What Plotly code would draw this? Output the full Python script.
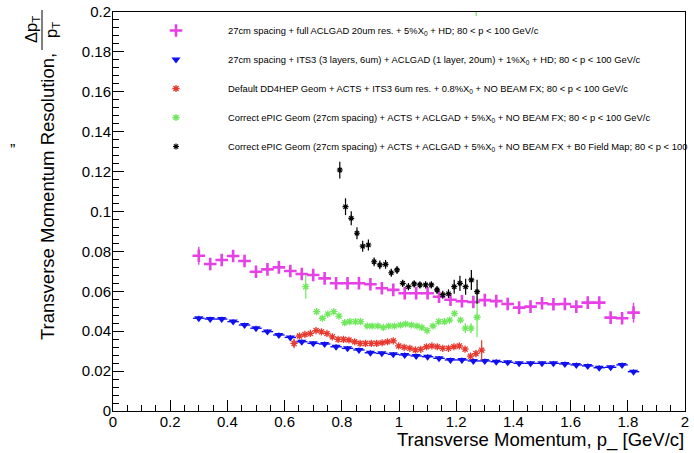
import plotly.graph_objects as go

# ---------------- data ----------------
mag_x = [0.30, 0.34, 0.38, 0.42, 0.46, 0.50, 0.54, 0.58, 0.62, 0.66, 0.70, 0.74, 0.78,
         0.82, 0.86, 0.90, 0.94, 0.98, 1.02, 1.06, 1.10, 1.14, 1.18, 1.22, 1.26, 1.30,
         1.34, 1.38, 1.42, 1.46, 1.50, 1.54, 1.58, 1.62, 1.66, 1.70, 1.74, 1.78, 1.82]
mag_y = [0.0778, 0.0737, 0.0757, 0.0777, 0.0752, 0.0698, 0.0710, 0.0720, 0.0702, 0.0687,
         0.0682, 0.0665, 0.0640, 0.0640, 0.0640, 0.0635, 0.0615, 0.0607, 0.0590, 0.0590,
         0.0590, 0.0573, 0.0558, 0.0550, 0.0546, 0.0556, 0.0551, 0.0536, 0.0518, 0.0523,
         0.0540, 0.0535, 0.0536, 0.0523, 0.0543, 0.0543, 0.0468, 0.0465, 0.0493]
mag_err = [0.0045] + [0.0012] * 37 + [0.0050]

blue_x = mag_x
blue_y = [0.0465, 0.0461, 0.0461, 0.0448, 0.0431, 0.0415, 0.0398, 0.0381, 0.0369, 0.0347,
          0.0339, 0.0336, 0.0322, 0.0314, 0.0306, 0.0292, 0.0289, 0.0284, 0.0281, 0.0276,
          0.0272, 0.0264, 0.0256, 0.0256, 0.0251, 0.0251, 0.0247, 0.0244, 0.0239, 0.0239,
          0.0239, 0.0239, 0.0236, 0.0231, 0.0226, 0.0217, 0.0219, 0.0231, 0.0197]
blue_err = [0.0012] * 39

red_x = [0.633, 0.652, 0.671, 0.690, 0.710, 0.729, 0.748, 0.767, 0.787, 0.806, 0.825, 0.845,
         0.864, 0.883, 0.903, 0.922, 0.941, 0.960, 0.980, 0.999, 1.018, 1.038, 1.057, 1.076,
         1.096, 1.115, 1.134, 1.153, 1.173, 1.192, 1.211, 1.231, 1.250, 1.269, 1.289]
red_y = [0.0339, 0.0376, 0.0384, 0.0389, 0.0403, 0.0397, 0.0389, 0.0372, 0.0359, 0.0359,
         0.0356, 0.0347, 0.0339, 0.0339, 0.0339, 0.0339, 0.0342, 0.0347, 0.0352, 0.0326,
         0.0319, 0.0314, 0.0306, 0.0309, 0.0322, 0.0326, 0.0322, 0.0314, 0.0314, 0.0322,
         0.0326, 0.0310, 0.0275, 0.0288, 0.0305]
red_err = [0.0025] + [0.0008] * 31 + [0.0015, 0.0015, 0.0050]

green_x = [0.674, 0.712, 0.732, 0.751, 0.772, 0.790, 0.810, 0.828, 0.848, 0.866, 0.889,
           0.906, 0.926, 0.945, 0.964, 0.984, 1.005, 1.023, 1.043, 1.063, 1.080, 1.098,
           1.119, 1.139, 1.159, 1.177, 1.194, 1.215, 1.232, 1.252, 1.273, 1.270]
green_y = [0.0623, 0.0498, 0.0465, 0.0486, 0.0498, 0.0476, 0.0443, 0.0448, 0.0448, 0.0448,
           0.0426, 0.0426, 0.0426, 0.0419, 0.0426, 0.0426, 0.0431, 0.0436, 0.0431, 0.0426,
           0.0419, 0.0403, 0.0426, 0.0448, 0.0448, 0.0456, 0.0489, 0.0456, 0.0415, 0.0415,
           0.0470, 0.2150]
green_err = [0.0060] + [0.0010] * 25 + [0.0015, 0.0015, 0.0025, 0.0025, 0.0100, 0.0170]

black_x = [0.793, 0.813, 0.833, 0.853, 0.873, 0.893, 0.913, 0.933, 0.953, 0.973, 0.993,
           1.013, 1.033, 1.053, 1.073, 1.093, 1.113, 1.133, 1.153, 1.173, 1.193, 1.213,
           1.233, 1.253, 1.273]
black_y = [0.1208, 0.1024, 0.0966, 0.0891, 0.0826, 0.0832, 0.0748, 0.0732, 0.0735, 0.0693,
           0.0707, 0.0640, 0.0623, 0.0637, 0.0632, 0.0632, 0.0632, 0.0607, 0.0583, 0.0588,
           0.0623, 0.0640, 0.0623, 0.0657, 0.0598]
black_err = [0.0042, 0.0042, 0.0035, 0.0030, 0.0028, 0.0028, 0.0022, 0.0022, 0.0022, 0.0020,
             0.0020, 0.0018, 0.0018, 0.0018, 0.0018, 0.0018, 0.0018, 0.0020, 0.0020, 0.0022,
             0.0035, 0.0038, 0.0040, 0.0050, 0.0060]

legend_names = [
    "27cm spacing + full ACLGAD 20um res. + 5%X<sub>0</sub> + HD; 80 < p < 100 GeV/c",
    "27cm spacing + ITS3 (3 layers, 6um) + ACLGAD (1 layer, 20um) + 1%X<sub>0</sub> + HD; 80 < p < 100 GeV/c",
    "Default DD4HEP Geom + ACTS + ITS3 6um res. + 0.8%X<sub>0</sub> + NO BEAM FX; 80 < p < 100 GeV/c",
    "Correct ePIC Geom (27cm spacing) + ACTS + ACLGAD + 5%X<sub>0</sub> + NO BEAM FX; 80 < p < 100 GeV/c",
    "Correct ePIC Geom (27cm spacing) + ACTS + ACLGAD + 5%X<sub>0</sub> + NO BEAM FX + B0 Field Map; 80 < p < 100",
]

x_tick_vals = [0, 0.2, 0.4, 0.6, 0.8, 1.0, 1.2, 1.4, 1.6, 1.8, 2.0]
x_tick_text = ["0", "0.2", "0.4", "0.6", "0.8", "1", "1.2", "1.4", "1.6", "1.8", "2"]
y_tick_vals = [0, 0.02, 0.04, 0.06, 0.08, 0.10, 0.12, 0.14, 0.16, 0.18, 0.20]
y_tick_text = ["0", "0.02", "0.04", "0.06", "0.08", "0.1", "0.12", "0.14", "0.16", "0.18", "0.2"]

x_title = "Transverse Momentum, p_ [GeV/c]"
y_title = "Transverse Momentum Resolution,"

# ---------------- layout geometry ----------------
W, H = 694, 453
L, R, T, B = 113, 685, 12, 411
FONT = "Liberation Sans, Arial, Helvetica, sans-serif"


def px(xp):
    return (xp - L) / (R - L)


def py(yp):
    return (B - yp) / (B - T)


MAG = "#e640e6"
BLUE = "#1010ee"
RED = "#e8382e"
GREEN = "#6fe85c"
BLACK = "#000000"

fig = go.Figure()


def add_series(x, y, err, xerr, color, name, symbol, size, mline=0, thick=1.2, xthick=1.2):
    marker = dict(color=color, symbol=symbol, size=size)
    if mline:
        marker["line"] = dict(color=color, width=mline)
    fig.add_trace(go.Scatter(
        x=x, y=y, mode="markers", name=name, legendgroup=name,
        marker=marker,
        error_y=dict(type="data", array=err, color=color, thickness=thick, width=0),
        error_x=dict(type="constant", value=xerr, color=color, thickness=xthick, width=0),
        cliponaxis=True,
    ))


add_series(mag_x, mag_y, mag_err, 0.0, MAG, legend_names[0], "cross-thin-open", 9, mline=2.6, thick=1.4)
add_series(blue_x, blue_y, blue_err, 0.02, BLUE, legend_names[1], "triangle-down", 8, xthick=1.4)
add_series(red_x, red_y, red_err, 0.0, RED, legend_names[2], "asterisk-open", 6, mline=1.3)
add_series(green_x, green_y, green_err, 0.0, GREEN, legend_names[3], "asterisk-open", 6, mline=1.3)
add_series(black_x, black_y, black_err, 0.0, BLACK, legend_names[4], "asterisk-open", 5, mline=1.2)

axis_common = dict(
    showline=True, linecolor="black", linewidth=1, mirror=True,
    ticks="inside", tickcolor="black", showgrid=False, zeroline=False,
    tickfont=dict(family=FONT, size=15, color="black"),
    automargin=False,
)

fig.update_xaxes(range=[0, 2], tickvals=x_tick_vals, ticktext=x_tick_text, ticklen=11,
                 ticklabelstandoff=-3,
                 minor=dict(dtick=0.05, ticklen=6, ticks="inside", tickcolor="black"),
                 **axis_common)
fig.update_yaxes(range=[0, 0.2], tickvals=y_tick_vals, ticktext=y_tick_text, ticklen=11,
                 ticklabelstandoff=-2,
                 minor=dict(dtick=0.004, ticklen=6, ticks="inside", tickcolor="black"),
                 **axis_common)

annotations = [
    dict(text=x_title, xref="paper", yref="paper", x=px(686), y=py(440),
         xanchor="right", yanchor="middle", showarrow=False,
         font=dict(family=FONT, size=18.5, color="black")),
    dict(text=y_title, xref="paper", yref="paper", x=px(47), y=py(197),
         xanchor="center", yanchor="middle", textangle=-90, showarrow=False,
         font=dict(family=FONT, size=18.5, color="black")),
    dict(text="Δp<sub>T</sub>", xref="paper", yref="paper", x=px(32), y=py(30),
         xanchor="center", yanchor="middle", textangle=-90, showarrow=False,
         font=dict(family=FONT, size=16.5, color="black")),
    dict(text="p<sub>T</sub>", xref="paper", yref="paper", x=px(52), y=py(30),
         xanchor="center", yanchor="middle", textangle=-90, showarrow=False,
         font=dict(family=FONT, size=16.5, color="black")),
    dict(text="\u201d", xref="paper", yref="paper", x=px(12), y=py(150),
         xanchor="center", yanchor="middle", showarrow=False,
         font=dict(family=FONT, size=16, color="black")),
]

shapes = [
    dict(type="line", xref="paper", yref="paper", x0=px(42), x1=px(42), y0=py(10), y1=py(50),
         line=dict(color="black", width=1)),
]

fig.update_layout(
    width=W, height=H,
    margin=dict(l=L, r=W - R, t=T, b=H - B, pad=0, autoexpand=False),
    paper_bgcolor="white", plot_bgcolor="white",
    showlegend=True,
    legend=dict(x=px(124), y=py(16), xanchor="left", yanchor="top",
                bgcolor="rgba(0,0,0,0)", borderwidth=0,
                font=dict(family=FONT, size=9.4, color="black"),
                itemwidth=94, tracegroupgap=10, traceorder="grouped"),
    annotations=annotations, shapes=shapes,
    font=dict(family=FONT),
)

fig.write_html("out.html", post_script="document.body.style.margin='0';",
               config={"displayModeBar": False})
